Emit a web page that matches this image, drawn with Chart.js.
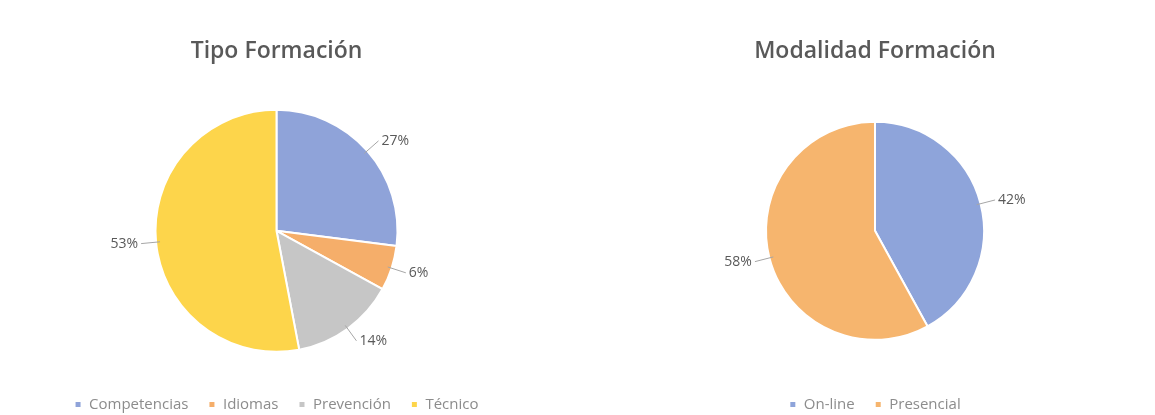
<!DOCTYPE html>
<html>
<head>
<meta charset="utf-8">
<script src="https://cdn.jsdelivr.net/npm/chart.js@4"></script>
<style>
  body { margin: 0; background: #fff; }
  .wrap { position: absolute; top: 0; height: 415px; }
  #w1 { left: 0; width: 553px; }
  #w2 { left: 590px; width: 570px; }
</style>
</head>
<body>
<div class="wrap" id="w1"><canvas id="tipoChart"></canvas></div>
<div class="wrap" id="w2"><canvas id="modChart"></canvas></div>
<script>
// Datos
const tipoLabels = ["Competencias", "Idiomas", "Prevención", "Técnico"];
const tipoValues = [27, 6, 14, 53];
const tipoColors = ["#8fa3d9", "#f5ae6a", "#c6c6c6", "#fdd54b"];

const modLabels = ["On-line", "Presencial"];
const modValues = [42, 58];
const modColors = ["#8ea4da", "#f6b56e"];

// Etiquetas de porcentaje fuera del círculo con línea guía
const outLabels = {
  id: "outLabels",
  afterDatasetsDraw(chart) {
    const ctx = chart.ctx;
    const meta = chart.getDatasetMeta(0);
    const data = chart.data.datasets[0].data;
    ctx.save();
    ctx.font = "14px 'Open Sans'";
    ctx.fillStyle = "#595959";
    ctx.strokeStyle = "#a6a6a6";
    ctx.lineWidth = 1;
    meta.data.forEach((arc, i) => {
      const p = arc.getProps(["x", "y", "startAngle", "endAngle", "outerRadius"], true);
      const mid = (p.startAngle + p.endAngle) / 2;
      const cos = Math.cos(mid), sin = Math.sin(mid);
      const r = p.outerRadius;
      const x1 = p.x + cos * (r - 4), y1 = p.y + sin * (r - 4);
      const x2 = p.x + cos * (r + 15), y2 = p.y + sin * (r + 15);
      ctx.beginPath();
      ctx.moveTo(x1, y1);
      ctx.lineTo(x2, y2);
      ctx.stroke();
      ctx.textBaseline = "middle";
      ctx.textAlign = cos >= 0 ? "left" : "right";
      ctx.fillText(data[i] + "%", x2 + (cos >= 0 ? 3 : -3), y2);
    });
    ctx.restore();
  }
};

function pieOptions(title, radius) {
  return {
    responsive: true,
    maintainAspectRatio: false,
    animation: false,
    radius: radius,
    layout: { padding: { bottom: -7 } },
    plugins: {
      title: {
        display: true,
        text: title,
        color: "#595959",
        font: { family: "'Open Sans'", size: 23, weight: "600" },
        padding: { top: 38, bottom: 19 }
      },
      legend: {
        position: "bottom",
        labels: {
          color: "#8c8c8c",
          font: { family: "'Open Sans'", size: 15 },
          usePointStyle: true,
          pointStyle: "rect",
          boxWidth: 7,
          boxHeight: 7,
          padding: 20
        }
      },
      tooltip: { enabled: false }
    }
  };
}

new Chart(document.getElementById("tipoChart"), {
  type: "pie",
  data: {
    labels: tipoLabels,
    datasets: [{
      data: tipoValues,
      backgroundColor: tipoColors,
      borderColor: "#ffffff",
      borderWidth: 2
    }]
  },
  options: pieOptions("Tipo Formación", 121),
  plugins: [outLabels]
});

new Chart(document.getElementById("modChart"), {
  type: "pie",
  data: {
    labels: modLabels,
    datasets: [{
      data: modValues,
      backgroundColor: modColors,
      borderColor: "#ffffff",
      borderWidth: 2
    }]
  },
  options: pieOptions("Modalidad Formación", 109),
  plugins: [outLabels]
});
</script>
</body>
</html>
